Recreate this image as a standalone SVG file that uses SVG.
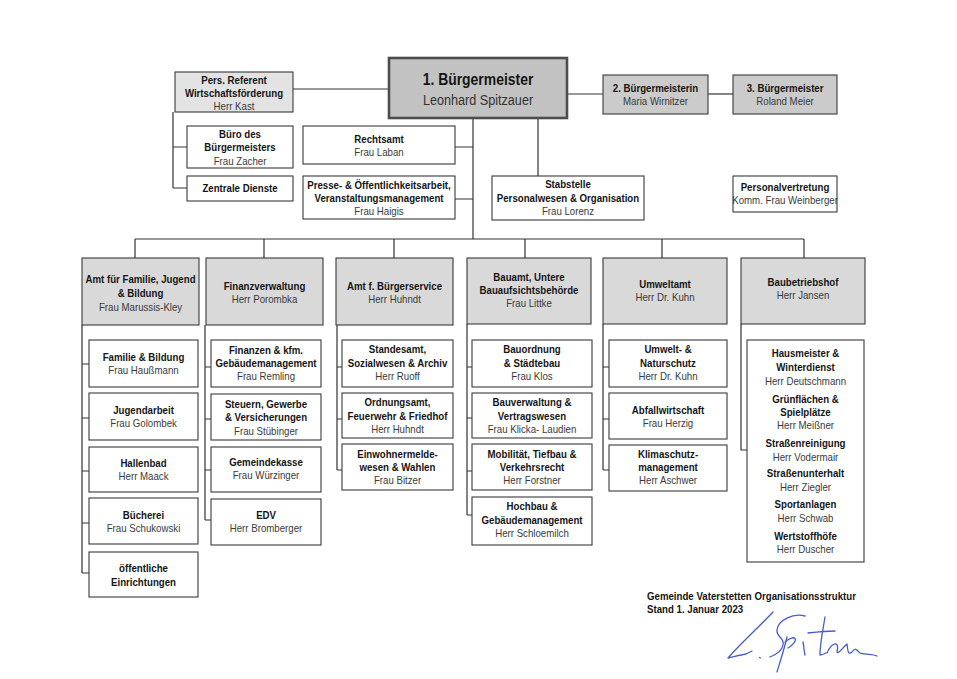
<svg xmlns="http://www.w3.org/2000/svg" width="957" height="679" viewBox="0 0 957 679">
<style>
.box{fill:#ffffff;stroke:#3a3a3a;stroke-width:1.1}
.hd{fill:#d9d9d9;stroke:#3a3a3a;stroke-width:1.1}
.ref{fill:#e3e3e3;stroke:#3a3a3a;stroke-width:1.1}
.vb{fill:#cbcbcb;stroke:#3a3a3a;stroke-width:1.1}
.bm{fill:#c2c2c2;stroke:#4d4d4d;stroke-width:2.6}
text{font-family:"Liberation Sans",Arial,sans-serif;text-anchor:middle;transform-box:fill-box;transform-origin:50% 50%;transform:scaleX(0.82)}
.b{font-weight:bold;font-size:11.8px;fill:#151515}
.r{font-size:11.8px;fill:#3a3a3a}
.tb{font-weight:bold;font-size:17px;fill:#151515}
.tr{font-size:15.4px;fill:#333333}
.ft{font-weight:bold;font-size:11.8px;fill:#151515;text-anchor:start;transform-origin:0% 50%}
#connectors path{fill:none;stroke:#333333;stroke-width:1.2}
#signature path{fill:none;stroke:#4a5cc9;stroke-width:1.3;stroke-linecap:round;stroke-linejoin:round}
</style>
<rect width="957" height="679" fill="#ffffff"/>

<g id="connectors">
<path d="M293,89 H389"/>
<path d="M567,94 H603"/>
<path d="M708,94 H733"/>
<path d="M173,112 V188 M173,147 H187 M173,188 H187"/>
<path d="M473,118 V239"/>
<path d="M455,147 H473 M455,199 H473"/>
<path d="M538,118 V176"/>
<path d="M135,239 H804"/>
<path d="M135,239 V258 M264,239 V258 M394,239 V258 M525,239 V258 M662,239 V258 M804,239 V258"/>
<path d="M82,325 V573 M82,364 H89 M82,418 H89 M82,471 H89 M82,523 H89 M82,573 H89"/>
<path d="M205,325 V520 M205,367 H211 M205,419 H211 M205,470 H211 M205,520 H211"/>
<path d="M337,325 V470 M337,367 H342 M337,419 H342 M337,470 H342"/>
<path d="M467,324 V515 M467,367 H472 M467,418 H472 M467,471 H472 M467,515 H472"/>
<path d="M603,324 V470 M603,367 H609 M603,419 H609 M603,470 H609"/>
<path d="M741,324 V450 H747"/>
</g>

<g id="n-bm1"><rect class="bm" x="389" y="58" width="178" height="60"/>
<text class="tb" x="478" y="85.5">1. Bürgermeister</text>
<text class="tr" x="478" y="105">Leonhard Spitzauer</text></g>

<g id="n-ref"><rect class="ref" x="175" y="72" width="118" height="40"/>
<text class="b" x="234" y="84">Pers. Referent</text>
<text class="b" x="234" y="97">Wirtschaftsförderung</text>
<text class="r" x="234" y="110">Herr Kast</text></g>

<g id="n-bm2"><rect class="vb" x="603" y="75" width="105" height="39"/>
<text class="b" x="655.5" y="92">2. Bürgermeisterin</text>
<text class="r" x="655.5" y="105">Maria Wirnitzer</text></g>

<g id="n-bm3"><rect class="vb" x="733" y="75" width="104" height="39"/>
<text class="b" x="785" y="92">3. Bürgermeister</text>
<text class="r" x="785" y="105">Roland Meier</text></g>

<g id="n-buero"><rect class="box" x="187" y="126" width="106" height="42"/>
<text class="b" x="240" y="138">Büro des</text>
<text class="b" x="240" y="151.5">Bürgermeisters</text>
<text class="r" x="240" y="165">Frau Zacher</text></g>

<g id="n-zd"><rect class="box" x="187" y="176" width="106" height="25"/>
<text class="b" x="240" y="192.5">Zentrale Dienste</text></g>

<g id="n-recht"><rect class="box" x="303" y="126" width="152" height="38"/>
<text class="b" x="379" y="143">Rechtsamt</text>
<text class="r" x="379" y="156.5">Frau Laban</text></g>

<g id="n-presse"><rect class="box" x="303" y="176" width="152" height="43"/>
<text class="b" x="379" y="189">Presse- &amp; Öffentlichkeitsarbeit,</text>
<text class="b" x="379" y="202">Veranstaltungsmanagement</text>
<text class="r" x="379" y="215">Frau Haigis</text></g>

<g id="n-stab"><rect class="box" x="492" y="176" width="152" height="44"/>
<text class="b" x="568" y="188.5">Stabstelle</text>
<text class="b" x="568" y="202">Personalwesen &amp; Organisation</text>
<text class="r" x="568" y="215.5">Frau Lorenz</text></g>

<g id="n-pv"><rect class="box" x="733" y="176" width="104" height="36"/>
<text class="b" x="785" y="191.5">Personalvertretung</text>
<text class="r" x="785" y="204.5">Komm. Frau Weinberger</text></g>

<g id="d-familie"><rect class="hd" x="82" y="258" width="117" height="67"/>
<text class="b" x="140.5" y="283">Amt für Familie, Jugend</text>
<text class="b" x="140.5" y="297">&amp; Bildung</text>
<text class="r" x="140.5" y="311">Frau Marussis-Kley</text></g>

<g id="d-finanz"><rect class="hd" x="206" y="258" width="117" height="67"/>
<text class="b" x="264.5" y="290">Finanzverwaltung</text>
<text class="r" x="264.5" y="303">Herr Porombka</text></g>

<g id="d-buerger"><rect class="hd" x="336" y="258" width="117" height="67"/>
<text class="b" x="394.5" y="290">Amt f. Bürgerservice</text>
<text class="r" x="394.5" y="303">Herr Huhndt</text></g>

<g id="d-bau"><rect class="hd" x="467" y="258" width="124" height="66"/>
<text class="b" x="529" y="281">Bauamt, Untere</text>
<text class="b" x="529" y="294">Bauaufsichtsbehörde</text>
<text class="r" x="529" y="307.5">Frau Littke</text></g>

<g id="d-umwelt"><rect class="hd" x="603" y="258" width="124" height="66"/>
<text class="b" x="665" y="288.5">Umweltamt</text>
<text class="r" x="665" y="301.5">Herr Dr. Kuhn</text></g>

<g id="d-bbh"><rect class="hd" x="741" y="258" width="124" height="66"/>
<text class="b" x="803" y="286.5">Baubetriebshof</text>
<text class="r" x="803" y="299.5">Herr Jansen</text></g>

<g id="s-fb"><rect class="box" x="89" y="340" width="109" height="47"/>
<text class="b" x="143.5" y="361">Familie &amp; Bildung</text>
<text class="r" x="143.5" y="374.5">Frau Haußmann</text></g>
<g id="s-jugend"><rect class="box" x="89" y="393" width="109" height="47"/>
<text class="b" x="143.5" y="414">Jugendarbeit</text>
<text class="r" x="143.5" y="427.5">Frau Golombek</text></g>
<g id="s-hallenbad"><rect class="box" x="89" y="447" width="109" height="45"/>
<text class="b" x="143.5" y="467">Hallenbad</text>
<text class="r" x="143.5" y="480.5">Herr Maack</text></g>
<g id="s-buecherei"><rect class="box" x="89" y="498" width="109" height="46"/>
<text class="b" x="143.5" y="519">Bücherei</text>
<text class="r" x="143.5" y="532.5">Frau Schukowski</text></g>
<g id="s-oeff"><rect class="box" x="89" y="552" width="109" height="45"/>
<text class="b" x="143.5" y="572">öffentliche</text>
<text class="b" x="143.5" y="586">Einrichtungen</text></g>

<g id="s-finanzen"><rect class="box" x="211" y="340" width="110" height="47"/>
<text class="b" x="266" y="354">Finanzen &amp; kfm.</text>
<text class="b" x="266" y="367">Gebäudemanagement</text>
<text class="r" x="266" y="380.5">Frau Remling</text></g>
<g id="s-steuern"><rect class="box" x="211" y="394" width="110" height="46"/>
<text class="b" x="266" y="408">Steuern, Gewerbe</text>
<text class="b" x="266" y="421.5">&amp; Versicherungen</text>
<text class="r" x="266" y="435">Frau Stübinger</text></g>
<g id="s-kasse"><rect class="box" x="211" y="447" width="110" height="45"/>
<text class="b" x="266" y="466">Gemeindekasse</text>
<text class="r" x="266" y="479">Frau Würzinger</text></g>
<g id="s-edv"><rect class="box" x="211" y="499" width="110" height="46"/>
<text class="b" x="266" y="519">EDV</text>
<text class="r" x="266" y="532">Herr Bromberger</text></g>

<g id="s-standesamt"><rect class="box" x="342" y="340" width="111" height="47"/>
<text class="b" x="397.5" y="353.5">Standesamt,</text>
<text class="b" x="397.5" y="367">Sozialwesen &amp; Archiv</text>
<text class="r" x="397.5" y="380.5">Herr Ruoff</text></g>
<g id="s-ordnung"><rect class="box" x="342" y="393" width="111" height="45"/>
<text class="b" x="397.5" y="406.5">Ordnungsamt,</text>
<text class="b" x="397.5" y="420">Feuerwehr &amp; Friedhof</text>
<text class="r" x="397.5" y="433">Herr Huhndt</text></g>
<g id="s-einwohner"><rect class="box" x="342" y="444" width="111" height="46"/>
<text class="b" x="397.5" y="458">Einwohnermelde-</text>
<text class="b" x="397.5" y="471.5">wesen &amp; Wahlen</text>
<text class="r" x="397.5" y="484.5">Frau Bitzer</text></g>

<g id="s-bauordnung"><rect class="box" x="472" y="340" width="120" height="47"/>
<text class="b" x="532" y="353.5">Bauordnung</text>
<text class="b" x="532" y="367">&amp; Städtebau</text>
<text class="r" x="532" y="380.5">Frau Klos</text></g>
<g id="s-bauverwaltung"><rect class="box" x="472" y="393" width="120" height="45"/>
<text class="b" x="532" y="406.5">Bauverwaltung &amp;</text>
<text class="b" x="532" y="420">Vertragswesen</text>
<text class="r" x="532" y="433">Frau Klicka- Laudien</text></g>
<g id="s-mobil"><rect class="box" x="472" y="444" width="120" height="46"/>
<text class="b" x="532" y="458">Mobilität, Tiefbau &amp;</text>
<text class="b" x="532" y="471.5">Verkehrsrecht</text>
<text class="r" x="532" y="484.5">Herr Forstner</text></g>
<g id="s-hochbau"><rect class="box" x="472" y="497" width="120" height="48"/>
<text class="b" x="532" y="510.5">Hochbau &amp;</text>
<text class="b" x="532" y="524">Gebäudemanagement</text>
<text class="r" x="532" y="537.5">Herr Schloemilch</text></g>

<g id="s-natur"><rect class="box" x="609" y="340" width="118" height="47"/>
<text class="b" x="668" y="353.5">Umwelt- &amp;</text>
<text class="b" x="668" y="367">Naturschutz</text>
<text class="r" x="668" y="380.5">Herr Dr. Kuhn</text></g>
<g id="s-abfall"><rect class="box" x="609" y="393" width="118" height="46"/>
<text class="b" x="668" y="414">Abfallwirtschaft</text>
<text class="r" x="668" y="427.5">Frau Herzig</text></g>
<g id="s-klima"><rect class="box" x="609" y="445" width="118" height="46"/>
<text class="b" x="668" y="458">Klimaschutz-</text>
<text class="b" x="668" y="471.5">management</text>
<text class="r" x="668" y="484.5">Herr Aschwer</text></g>

<g id="s-bbh"><rect class="box" x="747" y="340" width="117" height="222"/>
<text class="b" x="805.5" y="357">Hausmeister &amp;</text>
<text class="b" x="805.5" y="371">Winterdienst</text>
<text class="r" x="805.5" y="385">Herr Deutschmann</text>
<text class="b" x="805.5" y="403">Grünflächen &amp;</text>
<text class="b" x="805.5" y="416.5">Spielplätze</text>
<text class="r" x="805.5" y="429.5">Herr Meißner</text>
<text class="b" x="805.5" y="447">Straßenreinigung</text>
<text class="r" x="805.5" y="461">Herr Vodermair</text>
<text class="b" x="805.5" y="477.5">Straßenunterhalt</text>
<text class="r" x="805.5" y="491">Herr Ziegler</text>
<text class="b" x="805.5" y="508.5">Sportanlagen</text>
<text class="r" x="805.5" y="522">Herr Schwab</text>
<text class="b" x="805.5" y="540">Wertstoffhöfe</text>
<text class="r" x="805.5" y="553">Herr Duscher</text></g>

<g id="footer">
<text class="ft" x="647" y="600.5">Gemeinde Vaterstetten Organisationsstruktur</text>
<text class="ft" x="647" y="613.5">Stand 1. Januar 2023</text>
</g>

<g id="signature">
<path d="M773,612 C760,626 742,642 728,658 C733,657 740,655 746,654 C748,653 750,652 752,651"/>
<path d="M759.5,657.5 l1,0.5"/>
<path d="M805,616 C793,613 778,620 777,630 C776,637 785,638 783,645 C782,652 775,655 770,657"/>
<path d="M787,637 C784,650 780,662 777,672"/>
<path d="M785,642 C795,633 801,640 788,648"/>
<path d="M803,642 C804,647 804,651 805,655"/>
<path d="M825,617 C823,630 820,643 820,655 C822,655 824,654 826,653"/>
<path d="M808,633 C817,632 826,631 835,631"/>
<path d="M827,653 C832,642 840,640 837,652 C838,655 843,647 847,644 C848,652 848,655 852,652 C855,647 857,650 860,653 C867,655 872,654 877,656"/>
</g>
</svg>
